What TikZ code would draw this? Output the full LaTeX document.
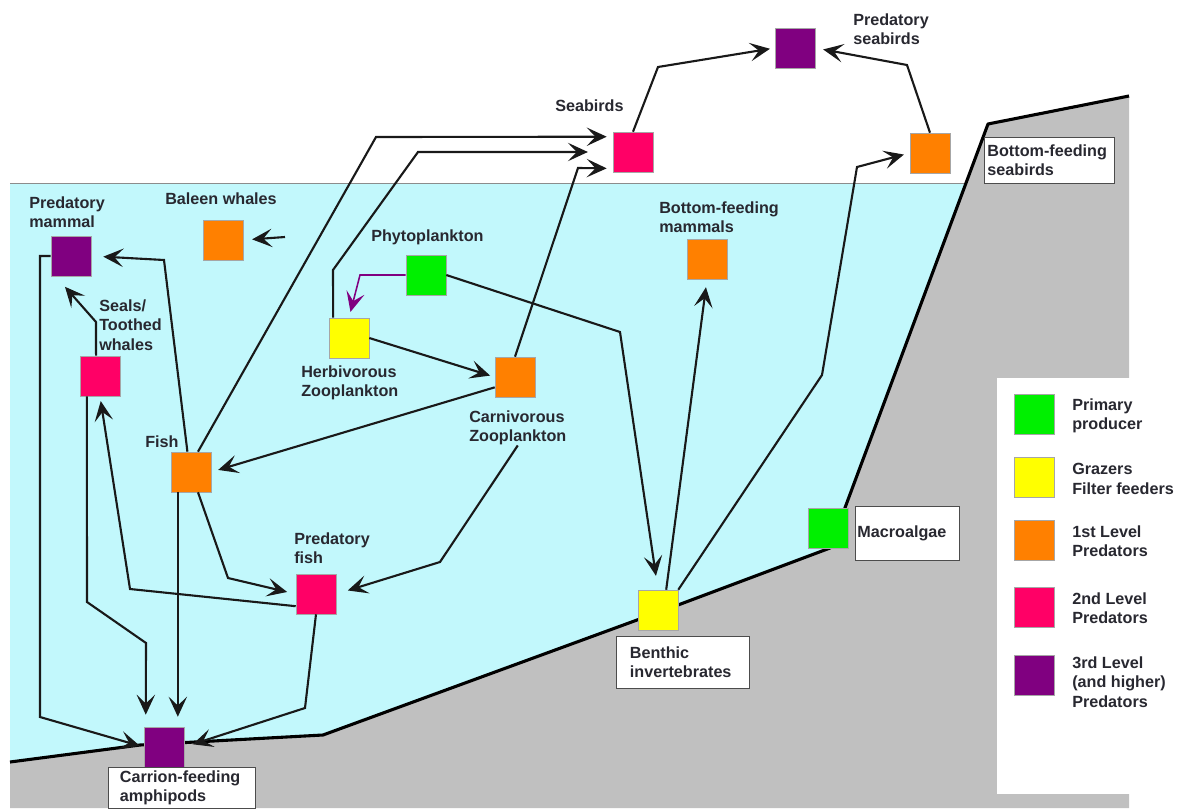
\documentclass[tikz,border=0pt]{standalone}
\usepackage{fontspec}
\setmainfont{Liberation Sans}
\usetikzlibrary{arrows.meta}
\definecolor{sea}{RGB}{194,248,252}
\definecolor{rock}{RGB}{192,192,192}
\definecolor{prodgreen}{RGB}{0,240,0}
\definecolor{grazeyellow}{RGB}{255,255,0}
\definecolor{predorange}{RGB}{255,128,0}
\definecolor{predcrimson}{RGB}{255,0,102}
\definecolor{predpurple}{RGB}{128,0,128}
\definecolor{ink}{RGB}{40,40,48}
\begin{document}
\begin{tikzpicture}[
    x=0.025cm, y=-0.025cm,
    every node/.style={font=\fontsize{11.5}{13.7}\selectfont\bfseries, text=ink},
    sq/.style={draw=black!35, line width=0.4pt, minimum size=1cm, inner sep=0pt},
    lbl/.style={anchor=west, align=left, inner sep=0pt},
    tag/.style={draw=black!70, fill=white, line width=0.6pt, anchor=north west, align=left, inner sep=0pt},
    arr/.style={-{Stealth[length=5mm, width=4.6mm, inset=2.2mm]}, line width=1.5pt, draw=black!90},
    seabed/.style={line width=2.2pt, draw=black, line join=round}
]
    \useasboundingbox (0,0) rectangle (1177,809);

    \fill[sea] (10,183) -- (966,183) -- (830,548) -- (678,605) -- (323,735) -- (140,745) -- (10,762) -- cycle;
    \fill[rock] (10,762) -- (140,745) -- (323,735) -- (678,605) -- (830,548) -- (988,124) -- (1129,96) -- (1129,808) -- (10,808) -- cycle;
    \draw[black!45, line width=0.6pt] (10,183) -- (966,183);
    \draw[seabed] (10,762) -- (140,745) -- (323,735) -- (678,605) -- (830,548) -- (988,124) -- (1129,96);
    \fill[white] (997,378) rectangle (1177,794);

    \node[sq, fill=predpurple] (pseab) at (795,48) {};
    \node[sq, fill=predcrimson] (seab) at (633,152) {};
    \node[sq, fill=predorange] (bfseab) at (930,153) {};
    \node[sq, fill=predpurple] (pmam) at (71,256) {};
    \node[sq, fill=predorange] (baleen) at (223,240) {};
    \node[sq, fill=predcrimson] (seals) at (100,376) {};
    \node[sq, fill=grazeyellow] (herb) at (349,338) {};
    \node[sq, fill=prodgreen] (phyto) at (426,275) {};
    \node[sq, fill=predorange] (bfmam) at (707,259) {};
    \node[sq, fill=predorange] (carn) at (515,377) {};
    \node[sq, fill=predorange] (fish) at (191,472) {};
    \node[sq, fill=predcrimson] (pfish) at (316,594) {};
    \node[sq, fill=predpurple] (amph) at (164,747) {};
    \node[sq, fill=grazeyellow] (benth) at (658,610) {};
    \node[sq, fill=prodgreen] (macro) at (828,528) {};

    \node[lbl] (pseablbl) at (853,29) {Predatory\\seabirds};
    \node[lbl] (seablbl) at (555,106) {Seabirds};
    \node[lbl] (pmamlbl) at (29,212) {Predatory\\mammal};
    \node[lbl] (baleenlbl) at (165,199) {Baleen whales};
    \node[lbl] (sealslbl) at (99,325) {Seals/\\Toothed\\whales};
    \node[lbl] (phytolbl) at (371,237) {Phytoplankton};
    \node[lbl] (herblbl) at (301,383) {Herbivorous\\Zooplankton};
    \node[lbl] (carnlbl) at (469,428) {Carnivorous\\Zooplankton};
    \node[lbl] (bfmamlbl) at (659,217) {Bottom-feeding\\mammals};
    \node[lbl] (fishlbl) at (145,442) {Fish};
    \node[lbl] (pfishlbl) at (294,548) {Predatory\\fish};

    \node[tag, minimum width=3.25cm, minimum height=1.15cm, text width=3.1cm] (bfseablbl) at (984,137) {Bottom-feeding\\seabirds};
    \node[tag, minimum width=3.675cm, minimum height=1.025cm, text width=3.1cm] (amphlbl) at (108,767) {Carrion-feeding\\amphipods};
    \node[tag, minimum width=3.325cm, minimum height=1.3cm, text width=2.65cm] (benthlbl) at (616,636) {Benthic\\invertebrates};
    \node[tag, minimum width=2.6cm, minimum height=1.35cm, text width=2.5cm] (macrolbl) at (855,506) {Macroalgae};

    \coordinate (balsrc) at (285,237);

    \draw[arr, draw=predpurple, line width=1.1pt, shorten >=0.15cm] (phyto.west) -- (360,275) -- (herb.north);
    \draw[arr, shorten >=0.35cm] (phyto.east) -- (620,332) -- (benth.north);
    \draw[arr, shorten >=0.12cm] (herb.east) -- (carn.west);
    \draw[arr, shorten >=0.62cm] (herb.128) -- (333,270) -- (418,152) -- (seab.west);
    \draw[arr, shorten >=0.15cm] (fish.71) -- (376,137) -- (seab.143);
    \draw[arr, shorten >=0.15cm] (carn.north) -- (578,168) -- (seab.219);
    \draw[arr, shorten >=0.18cm] (carn.207) -- (fish.east);
    \draw[arr, shorten >=0.3cm] (carnlbl.south) -- (440,562) -- (pfish.east);
    \draw[arr, shorten >=0.3cm] (fish.100) -- (164,260) -- (pmam.east);
    \draw[arr, shorten >=0.22cm] (fish.-71) -- (228,578) -- (pfish.west);
    \draw[arr, shorten >=0.25cm] (fish.237) -- (fish.237 |- amph.north);
    \draw[arr, shorten >=0.12cm] (pfish.211) -- (130,589) -- (seals.south);
    \draw[arr, shorten >=0.35cm] (seals.101) -- (96,322) -- (pmam.233);
    \draw[arr, shorten >=0.3cm] (seals.237) -- (87,602) -- (146,643) -- (amph.132);
    \draw[arr, shorten >=0.1cm] (pmam.west) -- (40,256) -- (40,717) -- (amph.west);
    \draw[arr, shorten >=0.22cm] (pfish.south) -- (305,708) -- (amph.east);
    \draw[arr, shorten >=0.22cm] (balsrc) -- (baleen.east);
    \draw[arr, shorten >=0.12cm] (seab.north) -- (658,67) -- (pseab.west);
    \draw[arr, shorten >=0.2cm] (bfseab.north) -- (907,65) -- (pseab.east);
    \draw[arr, shorten >=0.2cm] (benth.68) -- (bfmam.south);
    \draw[arr, shorten >=0.15cm] (benth.north east) -- (822,375) -- (857,167) -- (bfseab.west);

    \foreach \n/\yy/\ty/\col/\txt in {1/414/416/prodgreen/{Primary\\producer},
        2/477/479/grazeyellow/{Grazers\\Filter feeders},
        3/540/541/predorange/{1st Level\\Predators},
        4/607/608/predcrimson/{2nd Level\\Predators},
        5/675/682/predpurple/{3rd Level\\(and higher)\\Predators}} {
        \node[sq, fill=\col] (key\n) at (1034,\yy) {};
        \node[lbl] (keytxt\n) at (1072,\ty) {\txt};
    }
\end{tikzpicture}
\end{document}
